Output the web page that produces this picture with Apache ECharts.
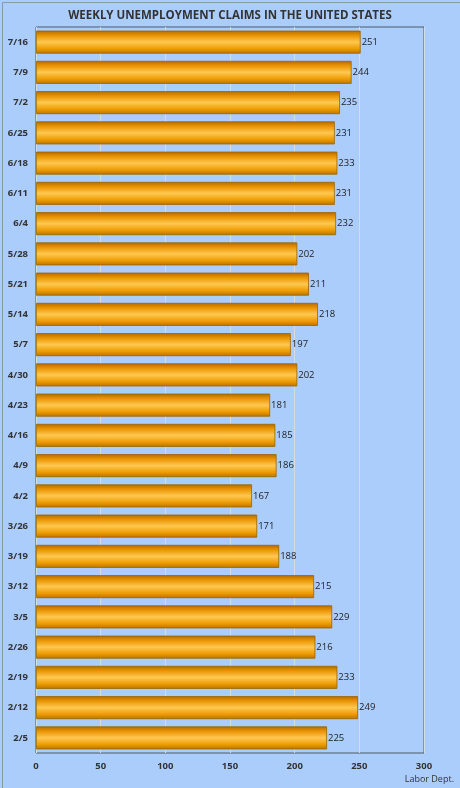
<!DOCTYPE html>
<html>
<head>
<meta charset="utf-8">
<script src="https://cdn.jsdelivr.net/npm/echarts@6/dist/echarts.min.js"></script>
<style>
  html, body { margin: 0; padding: 0; background: #abcdfb; }
  #chart { width: 460px; height: 788px; }
</style>
</head>
<body>
<div id="chart"></div>
<script>
// weeks, bottom to top
const weeks = ['2/5', '2/12', '2/19', '2/26', '3/5', '3/12', '3/19', '3/26', '4/2', '4/9', '4/16', '4/23',
  '4/30', '5/7', '5/14', '5/21', '5/28', '6/4', '6/11', '6/18', '6/25', '7/2', '7/9', '7/16']
// claims, thousands
const claims = [225, 249, 233, 216, 229, 215, 188, 171, 167, 186, 185, 181,
  202, 197, 218, 211, 202, 232, 231, 233, 231, 235, 244, 251]
const xTicks = [0, 50, 100, 150, 200, 250, 300]

const chart = echarts.init(document.getElementById('chart'), null, { renderer: 'canvas' })

const option = {
  backgroundColor: '#abcdfb',
  animation: false,
  title: {
    text: 'WEEKLY UNEMPLOYMENT CLAIMS IN THE UNITED STATES',
    left: 'center',
    top: 5,
    textStyle: { fontFamily: 'Open Sans', fontSize: 11.5, fontWeight: 'bold', color: '#333' },
  },
  graphic: [
    {
      // outer frame
      type: 'rect',
      left: 0,
      top: 0,
      shape: { width: 459, height: 787 },
      style: { fill: 'none', stroke: '#8a98a8', lineWidth: 1 },
      silent: true,
    },
    {
      type: 'text',
      right: 6,
      bottom: 4,
      style: { text: 'Labor Dept.', font: '9px "Open Sans"', fill: '#333' },
    },
  ],
  grid: { left: 36, right: 36, top: 27, bottom: 35, show: true, borderColor: '#4f5a66', borderWidth: 1, backgroundColor: 'transparent' },
  xAxis: {
    type: 'value',
    min: xTicks[0],
    max: xTicks[xTicks.length - 1],
    interval: xTicks[1] - xTicks[0],
    axisLine: { show: false },
    axisTick: { show: false },
    splitLine: { show: true, lineStyle: { color: '#d4dbe3', width: 1 } },
    axisLabel: { fontFamily: 'Open Sans', fontSize: 9.5, fontWeight: 'bold', color: '#333', margin: 8 },
  },
  yAxis: {
    type: 'category',
    data: weeks,
    axisLine: { show: false },
    axisTick: { show: false },
    axisLabel: { fontFamily: 'Open Sans', fontSize: 9.5, fontWeight: 'bold', color: '#333', margin: 8 },
  },
  series: [{
    type: 'bar',
    data: claims,
    barCategoryGap: '24%',
    itemStyle: {
      borderColor: '#9a6400',
      borderWidth: 0.8,
      color: new echarts.graphic.LinearGradient(0, 0, 0, 1, [
        { offset: 0, color: '#b06a00' },
        { offset: 0.2, color: '#e89200' },
        { offset: 0.5, color: '#ffc850' },
        { offset: 0.8, color: '#ec9a00' },
        { offset: 1, color: '#b87200' },
      ]),
    },
    label: {
      show: true,
      position: 'right',
      distance: 1,
      fontFamily: 'Open Sans',
      fontSize: 9.5,
      color: '#222',
    },
  }],
}

chart.setOption(option)
</script>
</body>
</html>
